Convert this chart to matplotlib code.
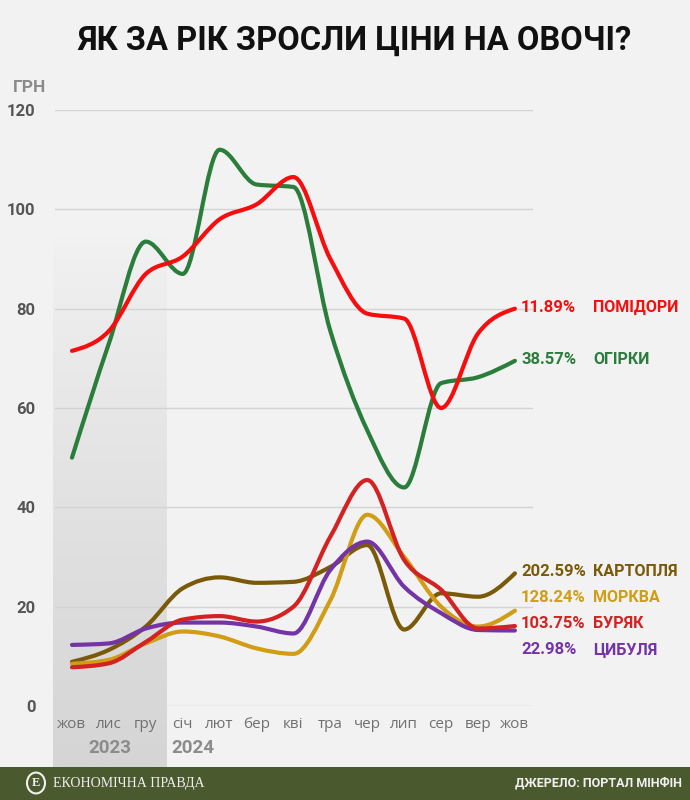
import numpy as np
import matplotlib
matplotlib.use("Agg")
import matplotlib.pyplot as plt
from matplotlib.path import Path
from matplotlib.patches import PathPatch, Rectangle, Circle

# Months on the x axis (Oct 2023 .. Oct 2024)
months = ["жов", "лис", "гру", "січ", "лют", "бер", "кві", "тра", "чер", "лип", "сер", "вер", "жов"]

# Prices, UAH per kg
tomato = [71.5, 75.5, 87.0, 90.5, 98.0, 101.0, 106.5, 90.0, 79.0, 78.0, 60.0, 75.0, 80.0]
cucumber = [50.0, 73.0, 93.5, 87.0, 112.0, 105.0, 104.5, 75.5, 55.5, 44.0, 65.0, 66.2, 69.5]
potato = [8.9, 11.3, 16.0, 23.7, 25.9, 24.8, 25.0, 28.0, 32.4, 15.4, 22.7, 22.0, 26.7]
carrot = [8.5, 9.3, 12.6, 15.0, 14.0, 11.6, 10.5, 21.3, 38.5, 30.0, 20.0, 16.0, 19.2]
beet = [7.8, 8.6, 12.9, 17.4, 18.1, 17.0, 20.0, 34.1, 45.5, 29.4, 23.4, 15.6, 16.1]
onion = [12.3, 12.6, 15.6, 16.8, 16.8, 16.0, 14.6, 27.4, 33.1, 24.0, 18.7, 15.3, 15.2]

names = ["ПОМІДОРИ", "ОГІРКИ", "КАРТОПЛЯ", "МОРКВА", "БУРЯК", "ЦИБУЛЯ"]
changes = ["11.89%", "38.57%", "202.59%", "128.24%", "103.75%", "22.98%"]
series = [tomato, cucumber, potato, carrot, beet, onion]
colors = ["#f60d0d", "#2a7d3b", "#7a5a08", "#d19d14", "#d22222", "#7434a6"]
# label y positions (pixels from top) for the right-hand labels
label_px = [307, 360, 572, 598, 623, 650]

cond = ["Roboto", "DejaVu Sans"]
BG = "#f2f2f2"
W, H = 690, 800


def monotone_path(xs, ys):
    # monotone cubic (like d3.curveMonotoneX) drawn as bezier segments
    xs = np.asarray(xs, float)
    ys = np.asarray(ys, float)
    n = len(xs)
    h = np.diff(xs)
    s = np.diff(ys) / h
    t = np.zeros(n)
    for i in range(1, n - 1):
        p = (s[i - 1] * h[i] + s[i] * h[i - 1]) / (h[i - 1] + h[i])
        t[i] = (np.sign(s[i - 1]) + np.sign(s[i])) * min(abs(s[i - 1]), abs(s[i]), 0.5 * abs(p))
    t[0] = (3 * s[0] - t[1]) / 2
    t[-1] = (3 * s[-1] - t[-2]) / 2
    verts = [(xs[0], ys[0])]
    codes = [Path.MOVETO]
    for i in range(n - 1):
        d = h[i] / 3
        verts += [(xs[i] + d, ys[i] + t[i] * d),
                  (xs[i + 1] - d, ys[i + 1] - t[i + 1] * d),
                  (xs[i + 1], ys[i + 1])]
        codes += [Path.CURVE4] * 3
    return Path(verts, codes)


fig = plt.figure(figsize=(W / 100, H / 100), dpi=100, facecolor=BG)

# shaded 2023 band with a vertical gradient
bg = fig.add_axes([53 / W, 33 / H, (167 - 53) / W, (767 - 235) / H], zorder=0)
grad = np.linspace(0, 1, 256) ** 0.85
top = np.array([0xf2, 0xf2, 0xf2]) / 255
bot = np.array([0xd5, 0xd5, 0xd5]) / 255
img = top[None, :] * (1 - grad[:, None]) + bot[None, :] * grad[:, None]
bg.imshow(img[:, None, :], aspect="auto", extent=(0, 1, 0, 1), origin="upper")
bg.set_axis_off()

ax = fig.add_axes([55 / W, 94 / H, (533 - 55) / W, 596 / H], zorder=1)
ax.set_facecolor("none")
x = np.arange(len(months))
ax.set_xlim(-0.46, 12.49)
ax.set_ylim(0, 120)

ax.set_yticks([0, 20, 40, 60, 80, 100, 120])
ax.grid(axis="y", color="#d3d3d3", linewidth=1)
ax.set_axisbelow(True)
for sp in ax.spines.values():
    sp.set_visible(False)
ax.tick_params(axis="y", length=0, pad=14, labelsize=12, labelcolor="#555555")
for lbl in ax.get_yticklabels():
    lbl.set_family(cond)
    lbl.set_weight("bold")
ax.set_xticks(x)
ax.set_xticklabels(months, fontsize=11, color="#707070", family="Open Sans")
ax.tick_params(axis="x", length=0, pad=8)

# draw the lines, lower ones first
for idx in [2, 3, 5, 4, 1, 0]:
    patch = PathPatch(monotone_path(x, series[idx]), fill=False, edgecolor=colors[idx],
                      linewidth=3, capstyle="round", joinstyle="round", zorder=3)
    ax.add_patch(patch)

# right-hand labels
for i in range(len(names)):
    yf = 1 - label_px[i] / H
    fig.text(521 / W, yf, changes[i], color=colors[i], fontsize=12, weight="bold",
             family=cond, va="center", ha="left")
    fig.text(593 / W, yf, names[i], color=colors[i], fontsize=11.5, weight="bold",
             family=cond, va="center", ha="left")

# title and axis unit
fig.text(355 / W, 1 - 41 / H, "ЯК ЗА РІК ЗРОСЛИ ЦІНИ НА ОВОЧІ?", ha="center", va="center",
         fontsize=23.5, weight="bold", family=cond, color="#111111")
fig.text(30 / W, 1 - 88 / H, "ГРН", ha="center", va="center", fontsize=12.5,
         weight="bold", family=cond, color="#8a8a8a")

# years
fig.text(110 / W, 1 - 748 / H, "2023", ha="center", va="center", fontsize=13.5,
         weight="bold", family=cond, color="#8c8c8c")
fig.text(193 / W, 1 - 748 / H, "2024", ha="center", va="center", fontsize=13.5,
         weight="bold", family=cond, color="#8c8c8c")

# footer band
fig.patches.append(Rectangle((0, 0), 1, 33 / H, transform=fig.transFigure,
                             facecolor="#4b5a2e", edgecolor="none", zorder=5))
fig.patches.append(Circle((36 / W, 17 / H), 9 / W, transform=fig.transFigure,
                          facecolor="none", edgecolor="#f0f0f0", linewidth=1.5, zorder=6))
fig.text(36 / W, 17 / H, "Е", ha="center", va="center", fontsize=9, weight="bold",
         family="Liberation Serif", color="#f0f0f0", zorder=7)
fig.text(53 / W, 17 / H, "ЕКОНОМІЧНА ПРАВДА", ha="left", va="center", fontsize=10,
         family="Liberation Serif", color="#f0f0f0", zorder=7)
fig.text(682 / W, 17 / H, "ДЖЕРЕЛО: ПОРТАЛ МІНФІН", ha="right", va="center", fontsize=9,
         weight="bold", family=cond, color="#f0f0f0", zorder=7)

fig.savefig("out.png", dpi=100, facecolor=BG)
